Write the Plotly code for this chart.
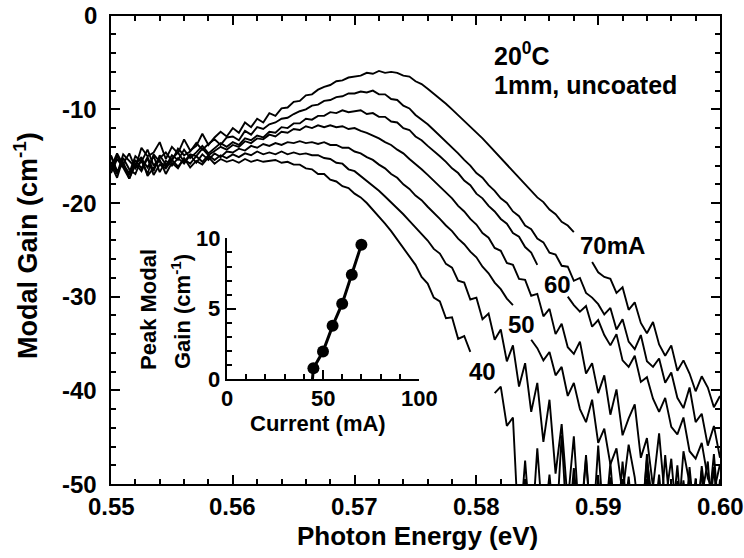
import numpy as np
import plotly.graph_objects as go

# ---------------- data ----------------
# photon energy sampling grid of the gain spectra (0.5 meV step)
energy_ev = np.linspace(0.55, 0.60, 101)

# modal gain spectra (cm^-1) for each drive current; None = no data
gain_70ma = [-15.6,-16.9,-14.8,-15.5,-16.2,-14.1,-15.0,-14.6,-13.5,-15.3,
             -14.0,-14.7,-13.2,-14.4,-13.9,-12.6,-13.8,-13.0,-12.4,-12.9,
             -12.0,-12.5,-11.4,-11.9,-11.0,-11.4,-10.4,-10.7,-9.9,-9.8,
             -9.2,-9.1,-8.5,-8.4,-7.9,-7.6,-7.4,-7.0,-6.9,-6.6,
             -6.5,-6.4,-6.1,-6.2,-5.9,-6.1,-6.0,-6.1,-6.4,-6.5,
             -7.0,-7.3,-7.8,-8.3,-8.8,-9.4,-10.0,-10.6,-11.2,-11.8,
             -12.5,-13.1,-13.8,-14.5,-15.2,-15.8,-16.6,-17.3,-18.0,-18.6,
             -19.4,-19.9,-20.7,-21.2,-22.0,-22.4,-23.1,None,None,-26.3,
             -27.4,-27.9,-28.1,-29.6,-29.0,-31.4,-30.6,-32.8,-33.9,-32.7,
             -35.1,-36.3,-35.2,-37.9,-36.8,-38.2,-40.1,-38.5,-39.7,-41.8,
             -40.6]
gain_65ma = [-16.2,-14.7,-15.9,-16.8,-15.0,-15.6,-14.3,-16.0,-15.2,-14.6,
             -15.5,-14.2,-14.9,-14.5,-13.6,-14.3,-13.7,-13.2,-13.8,-13.0,
             -12.9,-13.3,-12.3,-12.7,-11.9,-12.1,-11.6,-11.4,-11.0,-10.9,
             -10.5,-10.2,-10.0,-9.6,-9.5,-9.1,-9.0,-8.7,-8.6,-8.3,
             -8.3,-8.1,-8.2,-8.0,-8.4,-8.4,-8.9,-9.0,-9.6,-9.9,
             -10.6,-11.1,-11.6,-12.2,-12.8,-13.4,-14.1,-14.7,-15.4,-16.0,
             -16.8,-17.3,-18.1,-18.7,-19.5,-20.0,-20.9,-21.4,-22.4,-22.8,
             -23.8,-24.2,-25.3,-25.5,-26.7,-26.8,-28.3,-28.0,-29.6,-30.1,
             -30.8,-31.9,-31.2,-33.5,-32.4,-34.8,-35.6,-34.1,-36.9,-37.5,
             -36.6,-39.2,-38.1,-40.8,-41.9,-39.7,-43.4,-42.5,-45.9,-43.8,
             -47.2]
gain_60ma = [-15.0,-16.6,-15.8,-14.7,-16.3,-15.5,-16.9,-14.8,-15.6,-16.1,
             -14.9,-15.4,-14.3,-15.2,-14.6,-13.9,-14.7,-14.1,-13.6,-14.0,
             -13.5,-13.8,-13.1,-13.3,-12.8,-13.0,-12.4,-12.5,-11.9,-12.0,
             -11.5,-11.5,-11.0,-11.1,-10.7,-10.7,-10.3,-10.4,-10.1,-10.3,
             -10.2,-10.1,-10.5,-10.4,-10.8,-10.8,-11.3,-11.4,-12.0,-12.2,
             -12.9,-13.3,-13.9,-14.4,-15.0,-15.6,-16.3,-16.8,-17.6,-18.1,
             -19.0,-19.5,-20.3,-20.9,-21.7,-22.2,-23.2,-23.6,-24.7,-25.3,
             -26.6,None,None,None,None,-30.0,-30.9,-31.6,-31.0,-33.2,
             -32.5,-34.1,-35.2,-34.0,-36.8,-37.5,-36.3,-39.1,-38.6,-40.9,
             -42.3,-40.8,-43.9,-44.7,-42.9,-46.5,-47.3,-45.6,-49.4,-50.8,
             -47.9]
gain_55ma = [-16.5,-15.0,-16.1,-17.0,-15.4,-16.3,-15.1,-16.6,-14.9,-15.9,
             -15.3,-14.6,-15.6,-14.8,-15.0,-14.2,-14.9,-14.4,-14.0,-14.3,
             -13.8,-14.0,-13.4,-13.6,-13.1,-13.2,-12.7,-12.9,-12.4,-12.5,
             -12.1,-12.2,-11.8,-12.0,-11.7,-11.9,-11.7,-11.9,-11.8,-12.1,
             -12.0,-12.3,-12.5,-12.8,-13.1,-13.5,-13.8,-14.3,-14.7,-15.3,
             -15.8,-16.4,-17.0,-17.6,-18.2,-18.9,-19.5,-20.3,-20.9,-21.7,
             -22.3,-23.2,-23.7,-24.8,-25.1,-26.4,-26.6,-28.1,-28.2,-29.9,
             -29.7,-32.1,-31.3,-34.0,-32.9,-35.4,-36.1,-34.8,-38.2,-37.1,
             -40.3,-38.4,-42.6,-39.9,-44.8,-43.0,-41.5,-47.2,-45.1,-50.3,
             -44.6,-52.0,-47.3,-55.0,-46.5,-49.9,-56.0,-48.1,-53.5,-46.8,
             -55.0]
gain_50ma = [-15.9,-17.3,-15.2,-16.4,-16.9,-15.3,-16.2,-15.0,-16.7,-15.5,
             -16.0,-15.2,-15.8,-14.9,-15.7,-14.8,-15.4,-14.7,-15.1,-14.5,
             -14.6,-14.2,-14.4,-13.9,-14.1,-13.7,-13.9,-13.6,-13.8,-13.5,
             -13.6,-13.4,-13.6,-13.5,-13.7,-13.5,-13.8,-13.8,-14.1,-14.1,
             -14.5,-14.7,-15.1,-15.4,-15.9,-16.3,-16.9,-17.3,-18.0,-18.5,
             -19.2,-19.7,-20.4,-21.0,-21.7,-22.4,-23.0,-23.8,-24.4,-25.2,
             -25.8,-26.8,-27.5,-28.5,-29.2,-30.2,-30.9,None,None,-34.6,
             -35.5,-36.8,-35.9,-38.4,-37.5,-40.6,-39.2,-42.0,-43.4,-41.0,
             -45.6,-44.1,-47.9,-46.2,-51.0,-45.8,-49.3,-55.0,-47.4,-52.5,
             -56.0,-46.9,-54.0,-49.7,-56.0,-48.2,-55.0,-51.3,-47.6,-56.0,
             -49.5]
gain_45ma = [-16.8,-15.3,-16.2,-17.4,-15.8,-16.6,-15.2,-17.0,-15.9,-16.3,
             -15.4,-16.1,-15.3,-15.8,-15.0,-15.6,-14.9,-15.4,-14.9,-15.2,
             -14.8,-15.1,-14.7,-14.9,-14.5,-14.8,-14.6,-14.8,-14.5,-14.8,
             -14.6,-14.8,-14.7,-14.9,-14.9,-15.2,-15.3,-15.7,-15.8,-16.4,
             -16.6,-17.1,-17.6,-18.1,-18.7,-19.3,-19.9,-20.6,-21.2,-21.9,
             -22.6,-23.4,-24.0,-24.9,-25.4,-26.5,-26.9,-28.3,-28.5,-30.3,
             -30.1,-32.4,-31.8,-34.6,-33.5,-36.9,-35.2,-39.6,-37.1,-42.3,
             -39.2,-45.5,-41.0,-48.9,-43.6,-52.0,-44.9,-55.0,-47.3,-56.0,
             -45.9,-55.0,-49.3,-56.0,-47.6,-55.0,-50.2,-56.0,-46.8,-55.0,
             -49.0,-56.0,-55.0,-48.0,-56.0,-55.0,-49.4,-56.0,-55.0,-48.2,
             -56.0]
gain_40ma = [-14.9,-16.7,-15.6,-17.4,-15.9,-15.1,-17.1,-16.2,-15.4,-16.9,
             -15.7,-16.3,-15.2,-16.2,-15.5,-15.9,-15.1,-15.8,-15.3,-15.6,
             -15.4,-15.7,-15.3,-15.6,-15.4,-15.6,-15.5,-15.4,-15.7,-15.6,
             -15.9,-15.9,-16.3,-16.4,-16.9,-16.9,-17.5,-17.7,-18.2,-18.4,
             -19.0,-19.4,-20.0,-20.7,-21.4,-22.2,-23.0,-23.9,-24.8,-25.7,
             -26.6,-27.9,-28.6,-30.1,-30.5,-32.3,-32.2,-34.5,-34.2,-35.9,
             None,None,None,-40.3,-39.6,-43.8,-42.9,-56.0,-47.5,-56.0,
             -46.2,-55.0,-49.0,-56.0,-44.8,-56.0,-48.3,-55.0,-46.9,-56.0,
             -49.4,-55.0,-47.7,-56.0,-55.0,-49.2,-56.0,-55.0,-48.1,-56.0,
             -55.0,-50.5,-56.0,-55.0,-49.6,-56.0,-55.0,-48.6,-56.0,-55.0,
             -50.0]

spectra = [gain_70ma, gain_65ma, gain_60ma, gain_55ma, gain_50ma, gain_45ma, gain_40ma]

# peak modal gain versus drive current (inset)
inset_current_ma = [45, 50, 55, 60, 65, 70]
inset_peak_gain = [0.78, 1.97, 3.79, 5.36, 7.42, 9.55]
threshold_current_ma = 44.5   # where the gain line meets zero

# tick labels
energy_ticks = [0.55, 0.56, 0.57, 0.58, 0.59, 0.60]
energy_tick_text = ["0.55", "0.56", "0.57", "0.58", "0.59", "0.60"]
gain_ticks = [0, -10, -20, -30, -40, -50]
gain_tick_text = ["0", "-10", "-20", "-30", "-40", "-50"]
inset_x_ticks = [0, 50, 100]
inset_x_tick_text = ["0", "50", "100"]
inset_y_ticks = [0, 5, 10]
inset_y_tick_text = ["0", "5", "10"]

# ---------------- figure ----------------
W, H = 744, 558
FONT = "Arial, Liberation Sans, Helvetica, sans-serif"


def px_x(p):
    return p / W


def px_y(p):
    return (H - p) / H


fig = go.Figure()

for g in spectra:
    fig.add_trace(go.Scatter(
        x=energy_ev, y=g, mode="lines", connectgaps=False,
        line=dict(color="black", width=1.9),
        xaxis="x", yaxis="y", showlegend=False, hoverinfo="skip"))

# inset: straight line down to threshold plus markers
fig.add_trace(go.Scatter(
    x=[threshold_current_ma] + inset_current_ma,
    y=[0] + inset_peak_gain,
    mode="lines", line=dict(color="black", width=3),
    xaxis="x2", yaxis="y2", showlegend=False, hoverinfo="skip"))
fig.add_trace(go.Scatter(
    x=inset_current_ma, y=inset_peak_gain, mode="markers",
    marker=dict(color="black", size=12),
    xaxis="x2", yaxis="y2", showlegend=False, hoverinfo="skip", cliponaxis=False))


def axis_style(minor_dtick, minor_tick0):
    return dict(
        ticks="inside", ticklen=9, tickwidth=2, tickcolor="black",
        minor=dict(tickmode="linear", tick0=minor_tick0, dtick=minor_dtick,
                   ticks="inside", ticklen=5, tickwidth=1.5, tickcolor="black"),
        showline=True, linewidth=2.2, linecolor="black", showticklabels=False,
        showgrid=False, zeroline=False, automargin=False)


fig.update_layout(
    width=W, height=H,
    margin=dict(l=0, r=0, t=0, b=0),
    paper_bgcolor="white",
    plot_bgcolor="rgba(0,0,0,0)",
    showlegend=False,
    xaxis=dict(domain=[px_x(111), px_x(720)], anchor="y", range=[0.55, 0.60],
               tickmode="array", tickvals=energy_ticks, mirror="allticks",
               **axis_style(0.002, 0.55)),
    yaxis=dict(domain=[px_y(484), px_y(15.7)], anchor="x", range=[-50, 0],
               tickmode="array", tickvals=gain_ticks, mirror="allticks",
               **axis_style(2, 0)),
    xaxis2=dict(domain=[px_x(227), px_x(419)], anchor="y2", range=[0, 100],
                tickmode="array", tickvals=inset_x_ticks, mirror=False,
                **axis_style(10, 0)),
    yaxis2=dict(domain=[px_y(379.3), px_y(238.3)], anchor="x2", range=[0, 10],
                tickmode="array", tickvals=inset_y_ticks, mirror=False,
                **axis_style(1, 0)),
)

tick_font = dict(family=FONT, size=24, color="black")
label_font = dict(family=FONT, size=24, color="black")
cond_font = dict(family=FONT, size=25, color="black")
title_font = dict(family=FONT, size=26, color="black")
ytitle_font = dict(family=FONT, size=27, color="black")
inset_font = dict(family=FONT, size=22, color="black")
inset_tick_font = dict(family=FONT, size=22, color="black")

annotations = []
# bold tick labels
for v, t in zip(energy_ticks, energy_tick_text):
    annotations.append(dict(text="<b>%s</b>" % t, x=v, y=px_y(506), xref="x", yref="paper",
                            xanchor="center", yanchor="middle", showarrow=False, font=tick_font))
for v, t in zip(gain_ticks, gain_tick_text):
    annotations.append(dict(text="<b>%s</b>" % t, x=px_x(99), y=v, xref="paper", yref="y",
                            xanchor="right", yanchor="middle", showarrow=False, font=tick_font))
for v, t in zip(inset_x_ticks, inset_x_tick_text):
    annotations.append(dict(text="<b>%s</b>" % t, x=v, y=px_y(398), xref="x2", yref="paper",
                            xanchor="center", yanchor="middle", showarrow=False, font=inset_tick_font))
for v, t in zip(inset_y_ticks, inset_y_tick_text):
    annotations.append(dict(text="<b>%s</b>" % t, x=px_x(222), y=v, xref="paper", yref="y2",
                            xanchor="right", yanchor="middle", showarrow=False, font=inset_tick_font))

annotations += [
    # axis titles
    dict(text="<b>Photon Energy (eV)</b>", x=px_x(418), y=px_y(536), xref="paper", yref="paper",
         xanchor="center", yanchor="middle", showarrow=False, font=title_font),
    dict(text="<b>Modal Gain (cm<sup>-1</sup>)</b>", x=px_x(26), y=px_y(246), xref="paper", yref="paper",
         xanchor="center", yanchor="middle", textangle=-90, showarrow=False, font=ytitle_font),
    # condition text
    dict(text="<b>20<sup>0</sup>C</b>", x=px_x(492), y=px_y(54), xref="paper", yref="paper",
         xanchor="left", yanchor="middle", showarrow=False, font=cond_font),
    dict(text="<b>1mm, uncoated</b>", x=px_x(492), y=px_y(85), xref="paper", yref="paper",
         xanchor="left", yanchor="middle", showarrow=False, font=cond_font),
    # curve labels
    dict(text="<b>70mA</b>", x=0.59121, y=-24.5, xref="x", yref="y", showarrow=False, font=label_font),
    dict(text="<b>60</b>", x=0.58666, y=-28.75, xref="x", yref="y", showarrow=False, font=label_font),
    dict(text="<b>50</b>", x=0.58372, y=-33.0, xref="x", yref="y", showarrow=False, font=label_font),
    dict(text="<b>40</b>", x=0.5805, y=-38.0, xref="x", yref="y", showarrow=False, font=label_font),
    # inset titles
    dict(text="<b>Peak Modal</b>", x=px_x(148), y=px_y(310), xref="paper", yref="paper",
         xanchor="center", yanchor="middle", textangle=-90, showarrow=False, font=inset_font),
    dict(text="<b>Gain (cm<sup>-1</sup>)</b>", x=px_x(181), y=px_y(312), xref="paper", yref="paper",
         xanchor="center", yanchor="middle", textangle=-90, showarrow=False, font=inset_font),
    dict(text="<b>Current (mA)</b>", x=px_x(318), y=px_y(423), xref="paper", yref="paper",
         xanchor="center", yanchor="middle", showarrow=False, font=inset_font),
]
fig.update_layout(annotations=annotations)

fig.write_html("out.html")
